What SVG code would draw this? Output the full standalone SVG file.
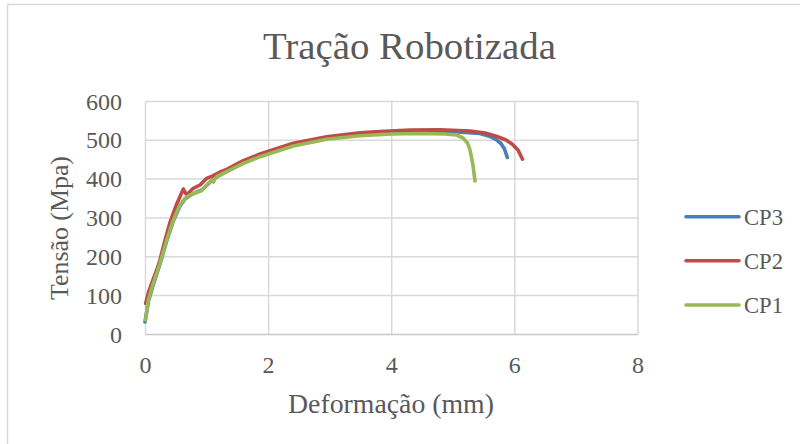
<svg xmlns="http://www.w3.org/2000/svg" width="800" height="444" viewBox="0 0 800 444">
<style>
  text { font-family: "Liberation Serif", "Times New Roman", serif; fill: #595959; }
  .tick { font-size: 24px; }
  .ytick { text-anchor: end; }
  .xtick { text-anchor: middle; }
  .grid { stroke: #D9D9D9; stroke-width: 1.5; fill: none; }
  .series { fill: none; stroke-width: 3.6; stroke-linecap: round; stroke-linejoin: round; }
  .cp3 { stroke: #4A7EBB; }
  .cp2 { stroke: #BE4B48; }
  .cp1 { stroke: #98B954; }
  .leg { font-size: 24px; }
</style>
<rect x="0" y="0" width="800" height="444" fill="#FFFFFF"/>
<rect id="chart-frame" x="7.5" y="4.5" width="800" height="450" fill="#FFFFFF" stroke="#D9D9D9" stroke-width="1.5"/>

<g id="title">
  <text x="409.5" y="59" font-size="38" text-anchor="middle" textLength="293" lengthAdjust="spacingAndGlyphs">Tração Robotizada</text>
</g>

<g id="gridlines">
  <line class="grid" x1="145.5" y1="101.5" x2="638" y2="101.5"/>
  <line class="grid" x1="145.5" y1="140.3" x2="638" y2="140.3"/>
  <line class="grid" x1="145.5" y1="179.1" x2="638" y2="179.1"/>
  <line class="grid" x1="145.5" y1="217.9" x2="638" y2="217.9"/>
  <line class="grid" x1="145.5" y1="256.7" x2="638" y2="256.7"/>
  <line class="grid" x1="145.5" y1="295.6" x2="638" y2="295.6"/>
  <line class="grid" x1="268.6" y1="101.5" x2="268.6" y2="334.5"/>
  <line class="grid" x1="391.7" y1="101.5" x2="391.7" y2="334.5"/>
  <line class="grid" x1="514.8" y1="101.5" x2="514.8" y2="334.5"/>
  <line class="grid" x1="638" y1="101.5" x2="638" y2="334.5"/>
  <line class="grid" x1="145.5" y1="101.5" x2="145.5" y2="334.5"/>
  <line x1="145.5" y1="334.5" x2="638" y2="334.5" stroke="#C8C8C8" stroke-width="1.5"/>
</g>

<g id="y-axis">
  <text class="tick ytick" x="122" y="109.5">600</text>
  <text class="tick ytick" x="122" y="148.3">500</text>
  <text class="tick ytick" x="122" y="187.1">400</text>
  <text class="tick ytick" x="122" y="225.9">300</text>
  <text class="tick ytick" x="122" y="264.7">200</text>
  <text class="tick ytick" x="122" y="303.6">100</text>
  <text class="tick ytick" x="122" y="342.5">0</text>
  <text x="0" y="0" font-size="25" text-anchor="middle" textLength="144" lengthAdjust="spacingAndGlyphs" transform="translate(67.5,228) rotate(-90)">Tensão (Mpa)</text>
</g>

<g id="x-axis">
  <text class="tick xtick" x="145.5" y="373">0</text>
  <text class="tick xtick" x="268.6" y="373">2</text>
  <text class="tick xtick" x="391.7" y="373">4</text>
  <text class="tick xtick" x="514.8" y="373">6</text>
  <text class="tick xtick" x="638" y="373">8</text>
  <text x="391" y="412.7" font-size="28" text-anchor="middle" textLength="206" lengthAdjust="spacingAndGlyphs">Deformação (mm)</text>
</g>

<g id="connectors">
  <path id="series-CP3" class="series cp3" d="M145,322 L146,316 L148.5,301 L153.5,284 L160,264 L166.7,241 L173.3,221 L180,206 L185,199 L190,195.5 L196.7,192 L201.7,190 L206.7,185.5 L211.7,180.5 L216.7,177 L226.7,171.5 L243.3,163 L260,156 L293.3,145 L326.7,138 L360,134 L391.7,132 L422,131.3 L453,131.8 L480,133.5 L490,136.5 L496.7,140 L501,143.5 L504.5,149 L507.3,157.5"/>
  <path id="series-CP2" class="series cp2" d="M145.7,303.5 L148.6,292 L151.7,283.3 L156.7,270 L160,260 L164,244 L170.1,222 L176.3,205 L183.3,189 L186,194 L188.3,193.3 L193.3,188.3 L200,185 L206.7,178.3 L213.3,175.7 L220,172 L226.7,169.3 L243.3,160.7 L260,154 L293.3,143.3 L326.7,136.7 L360,132.7 L380,131.5 L410,130 L440,129.8 L470,131 L485,133 L497,136.5 L506,140 L512,144 L518,150 L522.5,159.2"/>
  <path id="series-CP1" class="series cp1" d="M145.5,320 L146,316.7 L148.3,300 L153.3,283.3 L160,263.3 L166.7,240 L173.3,220 L180,205 L185,198.3 L190,195 L196.7,192.5 L201.7,190.5 L206.7,185 L211.7,180 L213.5,182 L215,178.5 L216.7,176.7 L226.7,171.7 L243.3,163.3 L260,156.7 L293.3,146 L326.7,139.3 L360,135.7 L391.7,134 L420,133.5 L445,134 L456.7,135 L463,138 L467.5,143 L470,150 L472.7,163.3 L475,181"/>
</g>

<g id="legend">
  <g id="legend-CP3">
    <line class="series cp3" x1="686" y1="216.7" x2="739" y2="216.7"/>
    <text class="leg" x="744" y="225" textLength="39" lengthAdjust="spacingAndGlyphs">CP3</text>
  </g>
  <g id="legend-CP2">
    <line class="series cp2" x1="686" y1="260.7" x2="739" y2="260.7"/>
    <text class="leg" x="744" y="269" textLength="39" lengthAdjust="spacingAndGlyphs">CP2</text>
  </g>
  <g id="legend-CP1">
    <line class="series cp1" x1="686" y1="305" x2="739" y2="305"/>
    <text class="leg" x="744" y="313.3" textLength="39" lengthAdjust="spacingAndGlyphs">CP1</text>
  </g>
</g>
</svg>
